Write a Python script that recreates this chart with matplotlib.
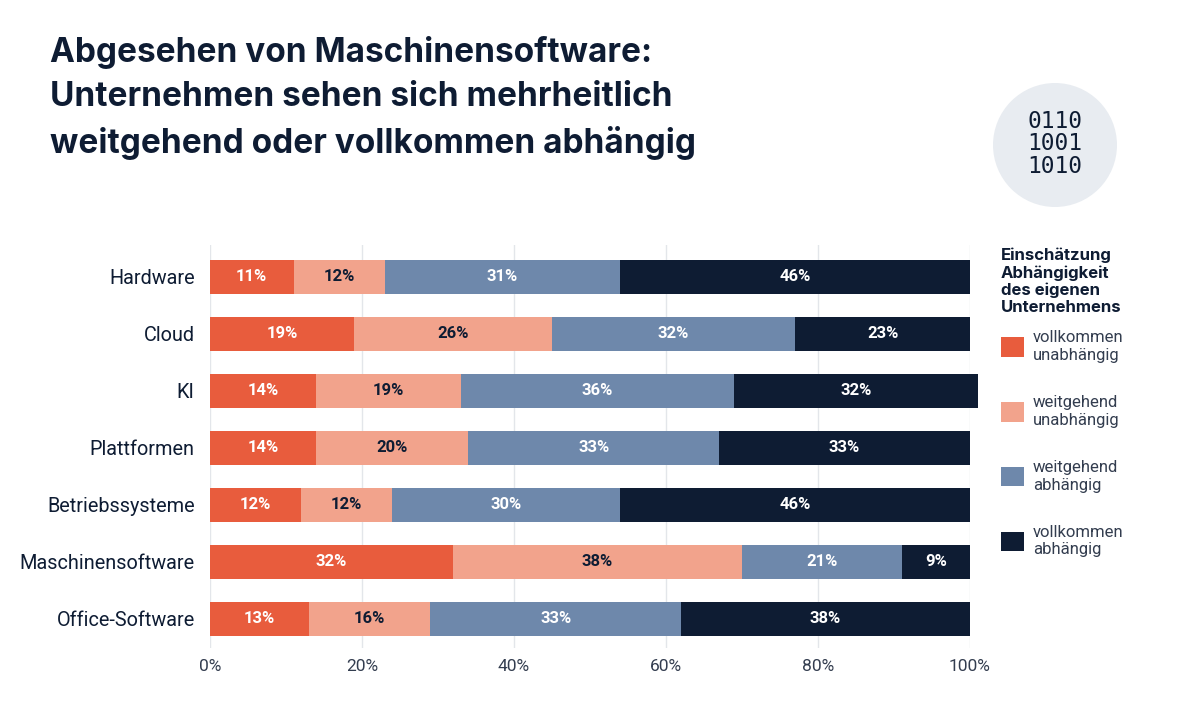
import matplotlib
matplotlib.use("Agg")
import matplotlib.pyplot as plt
from matplotlib.patches import Circle

categories = ["Hardware", "Cloud", "KI", "Plattformen", "Betriebssysteme",
              "Maschinensoftware", "Office-Software"]
vollkommen_unabh = [11, 19, 14, 14, 12, 32, 13]
weitgehend_unabh = [12, 26, 19, 20, 12, 38, 16]
weitgehend_abh = [31, 32, 36, 33, 30, 21, 33]
vollkommen_abh = [46, 23, 32, 33, 46, 9, 38]

series = [vollkommen_unabh, weitgehend_unabh, weitgehend_abh, vollkommen_abh]
series_labels = ["vollkommen\nunabhängig", "weitgehend\nunabhängig",
                 "weitgehend\nabhängig", "vollkommen\nabhängig"]
colors = ["#E85C3D", "#F2A38C", "#6E88AB", "#0E1C33"]
text_colors = ["white", "#0E1C33", "white", "white"]
xticks = [0, 20, 40, 60, 80, 100]

dark = "#0E1C33"
plt.rcParams["font.family"] = ["Roboto", "DejaVu Sans"]

fig = plt.figure(figsize=(12, 7.2), dpi=100)
ax = fig.add_axes([210 / 1200, 1 - 648 / 720, 760 / 1200, (648 - 245) / 720])

y = list(range(len(categories)))
left = [0] * len(categories)
handles = []
for vals, col, tcol, lab in zip(series, colors, text_colors, series_labels):
    bars = ax.barh(y, vals, left=left, height=0.6, color=col, label=lab,
                   zorder=3, clip_on=False)
    handles.append(bars)
    for yi, v, l in zip(y, vals, left):
        ax.text(l + v / 2, yi, f"{v}%", ha="center", va="center", color=tcol,
                fontsize=12, fontweight="bold", zorder=4)
    left = [a + b for a, b in zip(left, vals)]

ax.set_xlim(0, 100)
ax.set_ylim(6.509, -0.561)
ax.set_yticks(y)
ax.set_yticklabels(categories, fontsize=14.3, color=dark)
ax.set_xticks(xticks)
ax.set_xticklabels([f"{t}%" for t in xticks], fontsize=12.5, color="#333d4f")
ax.tick_params(length=0)
ax.tick_params(axis="x", pad=8)
ax.tick_params(axis="y", pad=11)
ax.grid(axis="x", color="#E3E6EA", linewidth=1, zorder=0)
for s in ax.spines.values():
    s.set_visible(False)

fig.text(50 / 1200, 1 - 36 / 720,
         "Abgesehen von Maschinensoftware:\nUnternehmen sehen sich mehrheitlich\nweitgehend oder vollkommen abhängig",
         fontsize=24, fontweight="bold", color=dark, va="top", ha="left",
         linespacing=1.49, family=["Inter", "DejaVu Sans"])

# icon circle
circ = Circle((10.55, 7.2 - 1.45), 0.62, transform=fig.dpi_scale_trans,
              facecolor="#E8ECF1", edgecolor="none")
fig.patches.append(circ)
fig.text(1055 / 1200, 1 - 144 / 720, "0110\n1001\n1010", family="DejaVu Sans Mono",
         fontsize=16.5, color=dark, ha="center", va="center", linespacing=0.95)

leg = fig.legend(handles=handles, labels=series_labels, loc="upper left",
                 bbox_to_anchor=(986 / 1200, 1 - 233 / 720), frameon=False,
                 title="Einschätzung\nAbhängigkeit\ndes eigenen\nUnternehmens",
                 title_fontproperties={"family": "Inter", "weight": "bold", "size": 12},
                 fontsize=12, labelspacing=1.95, handlelength=1.4, handleheight=1.4,
                 handletextpad=0.5, labelcolor="#333d4f")
leg._legend_box.align = "left"
leg._legend_box.sep = 11
leg.get_title().set_color(dark)
leg.get_title().set_linespacing(1.15)

fig.savefig("out.png", dpi=100, facecolor="white")
